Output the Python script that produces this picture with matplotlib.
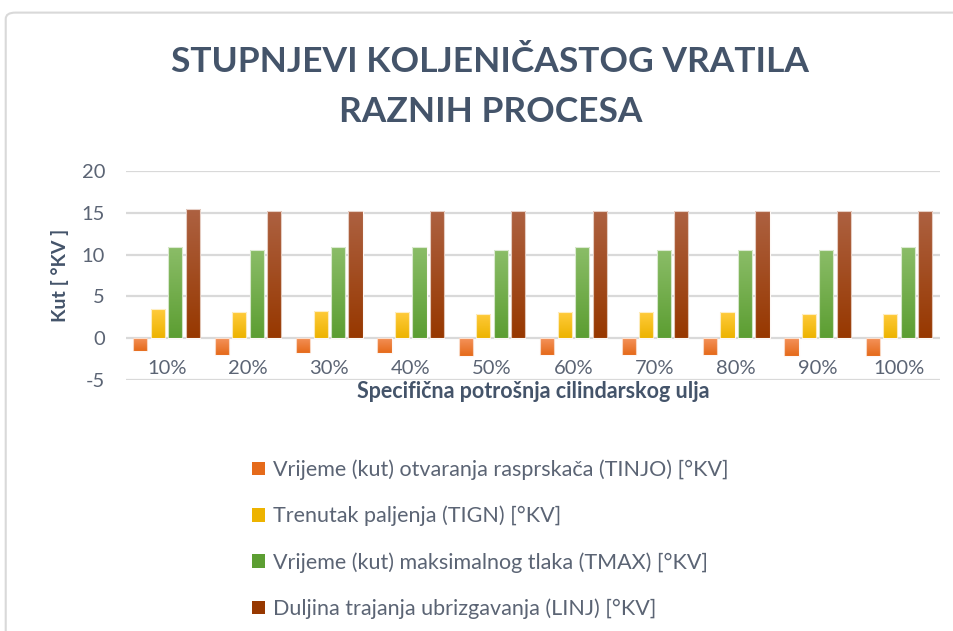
import matplotlib
matplotlib.use('Agg')
import matplotlib.pyplot as plt
import numpy as np
from matplotlib.colors import LinearSegmentedColormap
from matplotlib.patches import FancyBboxPatch

plt.rcParams['font.family'] = ['Lato', 'DejaVu Sans']
plt.rcParams['axes.unicode_minus'] = False

### Data
categories = ['10%', '20%', '30%', '40%', '50%', '60%', '70%', '80%', '90%', '100%']
tinjo = [-1.6, -2.0, -1.8, -1.8, -2.1, -2.0, -2.0, -2.0, -2.1, -2.1]
tign = [3.45, 3.1, 3.3, 3.1, 2.9, 3.1, 3.1, 3.1, 2.9, 2.9]
tmax = [10.9, 10.6, 10.9, 10.9, 10.6, 10.9, 10.6, 10.6, 10.6, 10.9]
linj = [15.4, 15.25, 15.25, 15.25, 15.25, 15.25, 15.25, 15.25, 15.25, 15.25]

labels = ['Vrijeme (kut) otvaranja rasprskača (TINJO) [°KV]',
          'Trenutak paljenja (TIGN) [°KV]',
          'Vrijeme (kut) maksimalnog tlaka (TMAX) [°KV]',
          'Duljina trajanja ubrizgavanja (LINJ) [°KV]']
series = [tinjo, tign, tmax, linj]
# (top colour, bottom colour) of the excel gradient
grads = [('#F4925A', '#E56A1A'),
         ('#FFCB3C', '#EDB300'),
         ('#8BBD68', '#5C9E32'),
         ('#AD6141', '#973800')]

textcol = '#44546A'
tickcol = '#5B6474'

fig = plt.figure(figsize=(9.54, 6.31), dpi=100)

### chart border
border = FancyBboxPatch((0.006, -0.05), 1.05, 1.03, boxstyle='round,pad=0,rounding_size=0.01',
                        transform=fig.transFigure, facecolor='none', edgecolor='#D9D9D9',
                        linewidth=1.5, zorder=-1)
fig.patches.append(border)

ax = fig.add_axes([0.132, 0.398, 0.853, 0.331])
ax.set_facecolor('none')

x = np.arange(len(categories))
step = 0.215
width = 0.175
for i in range(len(series)):
    off = (i - 1.5) * step
    bars = ax.bar(x + off, series[i], width=width, color=grads[i][1],
                  edgecolor='#FBE9DF', linewidth=0.8, zorder=2, label=labels[i])
    cmap = LinearSegmentedColormap.from_list('g%d' % i, [grads[i][1], grads[i][0]])
    for b in bars:
        x0, y0 = b.get_x(), b.get_y()
        w, h = b.get_width(), b.get_height()
        y_lo, y_hi = min(y0, y0 + h), max(y0, y0 + h)
        im = ax.imshow(np.linspace(0, 1, 64).reshape(-1, 1), cmap=cmap, origin='lower',
                       extent=[x0, x0 + w, y_lo, y_hi], aspect='auto', zorder=2.5)
        im.set_clip_path(b)
        ax.bar(x0 + w / 2, h, width=w, bottom=y0, facecolor='none',
               edgecolor='#FFFFFF', linewidth=0.8, alpha=0.7, zorder=3)

ax.set_xlim(-0.5, len(categories) - 0.5)
ax.set_ylim(-5, 20)
ax.set_yticks(np.arange(-5, 21, 5))
ax.yaxis.grid(True, color='#D9D9D9', linewidth=1.6, zorder=1)
ax.set_axisbelow(True)
for s in ax.spines.values():
    s.set_visible(False)
ax.spines['bottom'].set_position(('data', 0))
ax.set_xticks(x)
ax.set_xticklabels(categories)
ax.tick_params(axis='x', length=0, pad=16, labelsize=14.5, labelcolor=tickcol)
ax.tick_params(axis='y', length=0, pad=15, labelsize=14.5, labelcolor=tickcol)

ax.set_ylabel('Kut [ °KV ]', fontsize=14, fontweight='bold', color=textcol, labelpad=9)
fig.text(0.559, 1 - 392 / 631, 'Specifična potrošnja cilindarskog ulja', fontsize=15.5,
         fontweight='bold', color=textcol, ha='center', va='center')

fig.text(0.514, 1 - 62 / 631, 'STUPNJEVI KOLJENIČASTOG VRATILA', fontsize=25.5,
         fontweight='bold', color=textcol, ha='center', va='center')
fig.text(0.514, 1 - 112 / 631, 'RAZNIH PROCESA', fontsize=25.5,
         fontweight='bold', color=textcol, ha='center', va='center')

handles, labs = ax.get_legend_handles_labels()
leg = fig.legend(handles, labs, loc='upper left', bbox_to_anchor=(0.244, 1 - 440 / 631),
                 frameon=False, fontsize=15.5, labelcolor=tickcol, handlelength=0.6,
                 handleheight=0.6, handletextpad=0.35, labelspacing=1.2)
for h in leg.legend_handles:
    h.set_edgecolor('none')

fig.savefig('out.png', dpi=100)
